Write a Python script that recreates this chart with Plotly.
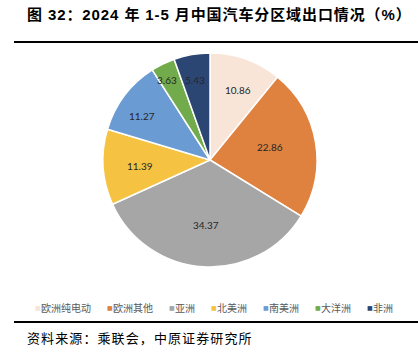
import math
import plotly.graph_objects as go

labels = ["欧洲纯电动", "欧洲其他", "亚洲", "北美洲", "南美洲", "大洋洲", "非洲"]
values = [10.86, 22.86, 34.37, 11.39, 11.27, 3.63, 5.43]
colors = ["#F8E5D8", "#E0823F", "#A6A6A6", "#F5C242", "#6B9BD3", "#72AB4B", "#2C4674"]
label_r = [0.77, 0.71, 0.61, 0.80, 0.80, 0.92, 0.83]

title = "图 32：2024 年 1-5 月中国汽车分区域出口情况（%）"
source = "资料来源：乘联会，中原证券研究所"

W, H = 418, 353
cx, cy, R = 210, 160, 107

fig = go.Figure(go.Pie(
    labels=labels, values=values, sort=False, direction="clockwise", rotation=0,
    marker=dict(colors=colors, line=dict(color="white", width=1.5)),
    textinfo="none", hoverinfo="label+value", showlegend=False,
    domain=dict(x=[(cx - R) / W, (cx + R) / W], y=[1 - (cy + R) / H, 1 - (cy - R) / H]),
))

annotations = []
total = sum(values)
cum = 0
for v, rf in zip(values, label_r):
    mid = (cum + v / 2) / total * 2 * math.pi
    cum += v
    px = cx + rf * R * math.sin(mid)
    py = cy - rf * R * math.cos(mid)
    annotations.append(dict(x=px / W, y=1 - py / H, xref="paper", yref="paper",
                            text=f"{v:.2f}", showarrow=False,
                            font=dict(family="Lato, Noto Sans", size=10, color="#262626")))

# Title
annotations.append(dict(x=25 / W, y=1 - 15 / H, xref="paper", yref="paper", xanchor="left",
                        yanchor="middle",
                        text='<span style="letter-spacing:0.9px"><b>' + title + "</b></span>",
                        showarrow=False,
                        font=dict(family="Liberation Sans, Noto Sans CJK SC", size=15, color="#000000")))
# Source
annotations.append(dict(x=25 / W, y=1 - 337 / H, xref="paper", yref="paper", xanchor="left",
                        yanchor="middle",
                        text='<span style="letter-spacing:1.1px">' + source + "</span>",
                        showarrow=False,
                        font=dict(family="Noto Sans CJK SC", size=13, color="#000000")))

# Custom legend
lx = 33
for lab, col in zip(labels, colors):
    annotations.append(dict(x=lx / W, y=1 - 307 / H, xref="paper", yref="paper", xanchor="left",
                            yanchor="middle", text="■", showarrow=False,
                            font=dict(family="DejaVu Sans", size=6, color=col)))
    annotations.append(dict(x=(lx + 6) / W, y=1 - 307 / H, xref="paper", yref="paper", xanchor="left",
                            yanchor="middle", text=lab, showarrow=False,
                            font=dict(family="Noto Sans CJK SC", size=10, color="#595959")))
    lx += 10 * len(lab) + 22

shapes = [
    dict(type="line", xref="paper", yref="paper", x0=14 / W, x1=1, y0=1 - 42 / H, y1=1 - 42 / H,
         line=dict(color="black", width=2)),
    dict(type="line", xref="paper", yref="paper", x0=14 / W, x1=1, y0=1 - 322 / H, y1=1 - 322 / H,
         line=dict(color="black", width=2)),
]

fig.update_layout(width=W, height=H, margin=dict(l=0, r=0, t=0, b=0),
                  paper_bgcolor="white", plot_bgcolor="white",
                  annotations=annotations, shapes=shapes)
fig.write_html("out.html")
